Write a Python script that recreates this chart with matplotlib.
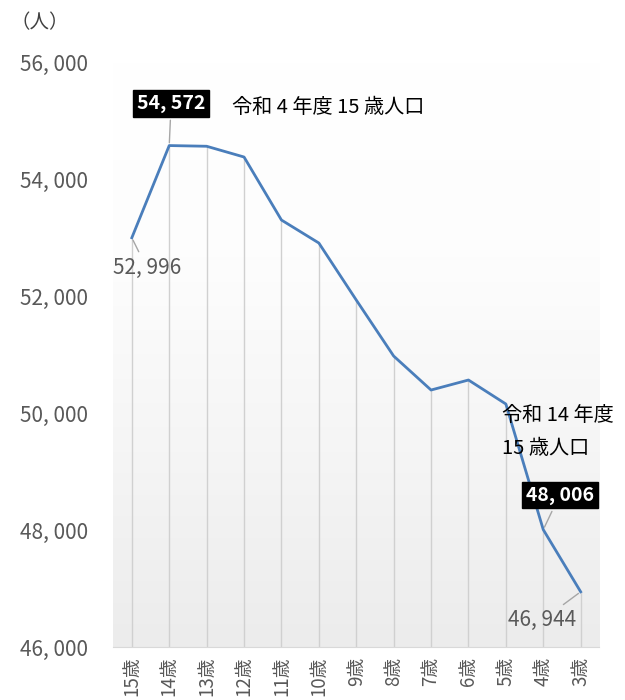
import numpy as np
import matplotlib
matplotlib.use('Agg')
import matplotlib.pyplot as plt
from matplotlib.colors import LinearSegmentedColormap

plt.rcParams['font.family'] = ['Noto Sans CJK JP', 'DejaVu Sans']

ages = ['15歳', '14歳', '13歳', '12歳', '11歳', '10歳', '9歳', '8歳', '7歳', '6歳', '5歳', '4歳', '3歳']
people = [52996, 54572, 54560, 54376, 53299, 52906, 51932, 50974, 50393, 50564, 50154, 48006, 46944]
yticks = [46000, 48000, 50000, 52000, 54000, 56000]

def fmt(v):
    return '{:,}'.format(v).replace(',', ', ')

fig = plt.figure(figsize=(6.25, 7), dpi=100)
ax = fig.add_axes([0.181, 0.0757, 0.778, 0.8357])
x = np.arange(len(ages))

# gradient background
grad = np.linspace(0, 1, 256).reshape(-1, 1)
cmap = LinearSegmentedColormap.from_list('bg', ['#ffffff', '#fdfdfd', '#f5f5f5', '#ececec'])
ax.imshow(grad, aspect='auto', cmap=cmap, extent=[0, 1, 0, 1],
          transform=ax.transAxes, zorder=0)

ax.vlines(x, yticks[0], people, color='#d0d0d0', lw=1, zorder=1)
ax.plot(x, people, color='#4a7ebb', lw=2, zorder=3)

ax.set_xlim(-0.5, len(ages) - 0.5)
ax.set_ylim(yticks[0], yticks[-1])
ax.set_yticks(yticks)
ax.set_yticklabels([fmt(v) for v in yticks], fontsize=15, color='#595959')
ax.set_xticks(x)
ax.set_xticklabels(ages, rotation=90, fontsize=13.5, color='#595959', va='top')
ax.tick_params(length=0)
ax.tick_params(axis='y', pad=18)
ax.tick_params(axis='x', pad=7)
for s in ['top', 'right', 'left']:
    ax.spines[s].set_visible(False)
ax.spines['bottom'].set_color('#d9d9d9')

# annotations
box = dict(boxstyle='square,pad=0.2', fc='black', ec='black')
lp = dict(arrowstyle='-', color='#a6a6a6', lw=1)
ax.annotate(fmt(people[1]), (1, people[1]), xytext=(1.05, 55290), ha='center', va='center',
            fontsize=14, color='white', fontweight='bold', bbox=box, arrowprops=lp, zorder=5)
ax.text(2.68, 55231, '令和 4 年度 15 歳人口', fontsize=14.5, va='center', ha='left')
ax.annotate(fmt(people[0]), (0, people[0]), xytext=(0.4, 52479), ha='center', va='center',
            fontsize=15, color='#595959', arrowprops=lp, zorder=5)
ax.annotate(fmt(people[11]), (11, people[11]), xytext=(11.44, 48598), ha='center', va='center',
            fontsize=14, color='white', fontweight='bold', bbox=box, arrowprops=lp, zorder=5)
ax.text(9.91, 49966, '令和 14 年度', fontsize=14.5, va='center', ha='left')
ax.text(9.91, 49385, '15 歳人口', fontsize=14.5, va='center', ha='left')
ax.annotate(fmt(people[12]), (12, people[12]), xytext=(10.98, 46462), ha='center', va='center',
            fontsize=15, color='#595959', arrowprops=lp, zorder=5)

fig.text(0.016, 0.968, '（人）', fontsize=14, color='#404040', ha='left', va='center')

fig.savefig('out.png', dpi=100)
